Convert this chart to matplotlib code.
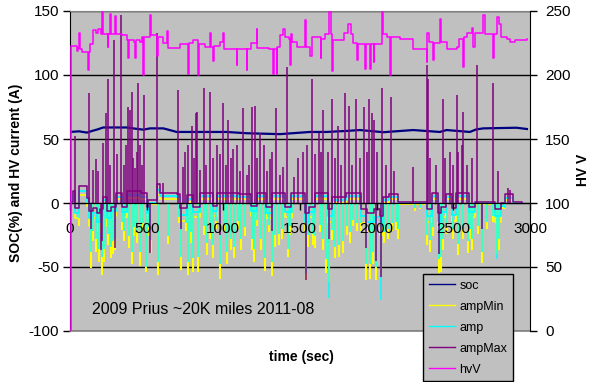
import numpy as np
import matplotlib
matplotlib.use('Agg')
import matplotlib.pyplot as plt
from matplotlib.lines import Line2D

plt.rcParams['font.family'] = ['Liberation Sans', 'DejaVu Sans']
plt.rcParams['axes.unicode_minus'] = False

# ---------------- data ----------------
soc_t = [0, 60, 110, 150, 180, 217, 370, 430, 478, 522, 609, 650, 696, 1022, 1152,
         1369, 1565, 1674, 1804, 1891, 2043, 2238, 2412, 2456, 2608, 2650, 2695, 2912, 2980]
soc_v = [55.5, 56.0, 55.0, 56.5, 57.5, 59.0, 59.0, 58.0, 57.3, 58.3, 58.3, 57.0, 55.5, 55.5, 54.5,
         53.8, 55.5, 55.5, 56.3, 57.0, 55.3, 57.0, 55.5, 57.0, 55.5, 57.5, 58.3, 58.8, 57.8]

# baseline (between spikes) of the three current series
base_t = [0, 20, 35, 60, 110, 125, 150, 175, 195, 215, 240, 265, 300, 340, 370, 460, 500, 510,
          570, 590, 700, 720, 760, 800, 850, 930, 960, 1100, 1180, 1220, 1280, 1320, 1400, 1440,
          1530, 1560, 1600, 1680, 1710, 1800, 1900, 1940, 1980, 2020, 2040, 2080, 2140, 2330,
          2360, 2400, 2420, 2450, 2490, 2520, 2600, 2640, 2770, 2810, 2840, 2890, 2950]
ampMax_base = [1, 9, -4, 13, 4, -6, -4, -8, -5, 5, -6, -3, 8, -3, 9, 8, -3, 2,
               15, 8, 7, -4, 6, -3, 8, -2, 8, 7, -2, 8, -3, 8, -3, 8,
               -8, -3, 8, -5, 5, 8, -5, -8, -5, -10, 5, 7, 1, -5,
               8, -8, -3, 7, -4, 8, -3, 1, -5, 0, 7, 1, 0]
amp_base = [0, 6, -8, 9, 1, -12, -8, -15, -10, 2, -12, -6, 5, -7, 6, 5, -8, 0,
            10, 5.5, 4.5, -9, 3, -7, 5.5, -6, 5.5, 4.5, -6, 5.5, -8, 5.5, -7, 5.5,
            -15, -7, 5.5, -10, 2, 5.5, -10, -15, -11, -18, 2, 4.5, 0, -10,
            5.5, -14, -7, 4.5, -9, 5.5, -7, 0, -10, -2, 4, 0, 0]
ampMin_base = [0, 4, -12, 6, -2, -18, -12, -22, -15, -1, -18, -10, 3, -11, 4, 3, -12, -1,
               6, 3.5, 3, -14, 1, -11, 3.5, -10, 3.5, 3, -10, 3.5, -12, 3.5, -11, 3.5,
               -22, -11, 3.5, -15, 0, 3.5, -16, -22, -17, -25, 0, 3, -1, -15,
               3.5, -20, -11, 3, -14, 3.5, -11, -1, -15, -4, 2.5, 0, 0]

# negative excursions (regen braking) of ampMin and amp
dip_t = [59, 137, 152, 169, 191, 206, 224, 250, 265, 278, 293, 337, 352, 385, 402, 417, 435,
         459, 476, 494, 517, 528, 576, 641, 713, 724, 757, 771, 787, 804, 837, 876, 891, 913,
         935, 950, 978, 1004, 1026, 1048, 1071, 1097, 1115, 1141, 1185, 1200, 1217, 1245, 1271,
         1300, 1319, 1337, 1360, 1380, 1423, 1434, 1448, 1539, 1554, 1582, 1597, 1630, 1647,
         1669, 1690, 1706, 1728, 1756, 1782, 1804, 1826, 1847, 1869, 1895, 1930, 1956, 1978,
         1995, 2026, 2048, 2076, 2098, 2124, 2141, 2250, 2280, 2325, 2345, 2370, 2408, 2419,
         2434, 2456, 2499, 2532, 2565, 2593, 2608, 2625, 2662, 2690, 2717, 2760, 2782, 2800, 2840]
ampMin_dip = [-18, -51, -30, -38, -46, -56, -46, -33, -43, -40, -37, -21, -30, -35, -48, -26, -31,
              -49, -22, -54, -26, -39, -56, -32, -16, -52, -22, -56, -31, -54, -54, -25, -41, -28,
              -43, -20, -59, -23, -48, -37, -43, -20, -37, -26, -37, -46, -18, -37, -53,
              -23, -57, -34, -33, -28, -42, -25, -12, -60, -34, -33, -35, -23, -37,
              -55, -62, -29, -43, -42, -39, -25, -31, -18, -22, -22, -60, -59, -48,
              -60, -56, -31, -28, -22, -21, -28, -6, -5, -33, -38, -26, -55, -54,
              -37, -24, -28, -41, -28, -39, -28, -37, -24, -47, -20, -15, -40, -37, -5]
amp_dip = [-12, -38, -22, -28, -36, -42, -36, -24, -34, -30, -28, -15, -22, -26, -38, -19, -23,
           -38, -16, -50, -19, -29, -46, -26, -11, -42, -16, -46, -23, -43, -42, -18, -31, -20,
           -33, -14, -48, -17, -38, -28, -34, -14, -28, -19, -28, -36, -13, -28, -43,
           -17, -46, -25, -24, -20, -36, -18, -8, -55, -25, -24, -26, -17, -28,
           -44, -74, -21, -34, -33, -30, -18, -23, -13, -16, -16, -48, -48, -38,
           -50, -76, -23, -20, -16, -15, -20, -4, -4, -25, -29, -19, -44, -42,
           -28, -18, -20, -32, -20, -30, -20, -28, -18, -38, -15, -10, -44, -28, -4]

# negative excursions of ampMax
maxdip_t = [137, 200, 206, 293, 522, 724, 978, 1319, 1539, 1690, 1930, 1995, 2026, 2408, 2690]
ampMax_dip = [-20, -37, -30, -35, -39, -20, -25, -22, -60, -28, -35, -45, -58, -40, -20]

# positive spikes of ampMax
spike_t = [33, 126, 152, 167, 185, 217, 235, 245, 262, 287, 304, 330, 354, 362, 380, 391, 402,
           413, 424, 435, 446, 456, 470, 485, 569, 609, 702, 739, 750, 772, 793, 808, 820, 826,
           848, 874, 890, 913, 935, 956, 978, 1000, 1015, 1032, 1050, 1065, 1087, 1110, 1130,
           1152, 1170, 1189, 1206, 1220, 1239, 1265, 1285, 1304, 1320, 1343, 1369, 1390, 1417,
           1460, 1490, 1520, 1545, 1576, 1600, 1626, 1637, 1652, 1680, 1711, 1730, 1750, 1770,
           1793, 1821, 1840, 1865, 1890, 1917, 1935, 1952, 1967, 1982, 2005, 2036, 2060, 2091,
           2110, 2239, 2325, 2336, 2345, 2390, 2430, 2445, 2480, 2500, 2521, 2530, 2558, 2565,
           2590, 2620, 2652, 2760, 2790, 2855, 2870]
ampMax_spike = [52, 86, 26, 34, 25, 47, 70, 97, 30, 127, 38, 147, 30, 45, 75, 73, 87,
                35, 27, 40, 94, 45, 30, 84, 133, 16, 88, 28, 40, 45, 60, 35, 70, 71,
                26, 90, 30, 87, 35, 45, 38, 78, 30, 65, 35, 42, 45, 25, 74,
                22, 30, 75, 76, 35, 55, 45, 25, 34, 40, 74, 22, 28, 106,
                20, 35, 40, 45, 97, 38, 55, 40, 73, 40, 81, 35, 60, 30,
                86, 76, 30, 81, 35, 75, 40, 81, 70, 65, 40, 90, 30, 83,
                25, 28, 108, 97, 35, 30, 81, 35, 40, 30, 84, 40, 45, 71,
                30, 35, 108, 94, 25, 12, 10]

hv_t = [0, 4, 33, 43, 54, 60, 66, 76, 109, 120, 125, 130, 152, 170, 185, 200, 206, 212, 239,
        245, 250, 260, 265, 293, 298, 340, 370, 380, 385, 420, 424, 430, 456, 470, 478, 483,
        510, 522, 530, 565, 570, 575, 609, 630, 640, 696, 720, 772, 777, 800, 837, 842, 880,
        913, 920, 935, 940, 978, 1000, 1005, 1070, 1087, 1092, 1140, 1152, 1157, 1180, 1217,
        1222, 1300, 1326, 1331, 1348, 1353, 1369, 1391, 1400, 1430, 1435, 1440, 1450, 1480,
        1533, 1538, 1560, 1565, 1576, 1630, 1635, 1640, 1660, 1690, 1700, 1706, 1712, 1782,
        1790, 1810, 1830, 1848, 1870, 1875, 1924, 1929, 1955, 1960, 1980, 1985, 2021, 2032,
        2040, 2065, 2087, 2092, 2152, 2238, 2325, 2330, 2340, 2370, 2375, 2412, 2418, 2456,
        2521, 2540, 2565, 2570, 2590, 2620, 2630, 2640, 2695, 2705, 2760, 2765, 2782, 2800,
        2810, 2847, 2870, 2900, 2978]
hv_v = [0, 223, 223, 219, 221, 233, 220, 218, 218, 204, 218, 224, 235, 233, 236, 232, 249, 232, 232,
        222, 232, 248, 232, 246, 232, 231, 227, 213, 227, 226, 213, 227, 226, 230, 200, 230,
        230, 247, 231, 231, 215, 230, 225, 234, 221, 221, 224, 201, 225, 227, 200, 224, 222,
        233, 222, 211, 223, 226, 233, 220, 220, 208, 220, 220, 204, 220, 225, 236,
        221, 220, 201, 220, 201, 222, 231, 236, 230, 228, 208, 232, 226, 222,
        243, 222, 222, 215, 230, 230, 213, 228, 232, 249, 232, 203, 227, 227,
        233, 240, 232, 225, 212, 224, 205, 224, 205, 224, 210, 224, 224, 249,
        232, 230, 200, 230, 228, 220, 210, 233, 226, 212, 225, 244, 226, 220,
        222, 228, 206, 230, 233, 237, 222, 233, 247, 232, 213, 232, 245, 240,
        230, 228, 226, 227, 228]

x_ticks = [0, 500, 1000, 1500, 2000, 2500, 3000]
left_ticks = [-100, -50, 0, 50, 100, 150]
right_ticks = [0, 50, 100, 150, 200, 250]

names = ['soc', 'ampMin', 'amp', 'ampMax', 'hvV']
colors = {'soc': '#000080', 'ampMin': '#FFFF00', 'amp': '#00FFFF',
          'ampMax': '#800080', 'hvV': '#FF00FF'}

# ---------------- figure ----------------
W, H = 599, 382
fig = plt.figure(figsize=(W / 100, H / 100), dpi=100)
fig.patch.set_facecolor('white')
ax = fig.add_axes([70 / W, 1 - 331 / H, 460 / W, 320 / H])
ax.set_facecolor('#C0C0C0')
ax.set_xlim(0, 3000)
ax.set_ylim(-100, 150)
ax.set_xticks(x_ticks)
ax.set_yticks(left_ticks)
ax.yaxis.grid(True, color='black', lw=1)
ax.set_axisbelow(True)
ax.spines['bottom'].set_position(('data', 0))
ax.spines['bottom'].set_zorder(6)
ax.spines['top'].set_color('#808080')
ax.spines['right'].set_visible(False)
ax.axhline(-100, color='#808080', lw=1.2, clip_on=False, zorder=3)
ax.tick_params(axis='y', direction='out', length=5, width=1, labelsize=11, pad=3)
ax.tick_params(axis='x', direction='out', length=5, width=1, labelsize=11, pad=9)
ax.xaxis.set_zorder(10)

# soc
ax.plot(soc_t, soc_v, color=colors['soc'], lw=1.6, zorder=2)
# ampMin
ax.plot(base_t, ampMin_base, color=colors['ampMin'], lw=1.2, drawstyle='steps-post', zorder=3)
ax.vlines(dip_t, 0, ampMin_dip, color=colors['ampMin'], lw=1.5, zorder=3)
# amp
ax.plot(base_t, amp_base, color=colors['amp'], lw=1.3, drawstyle='steps-post', zorder=4)
ax.vlines(dip_t, 0, amp_dip, color=colors['amp'], lw=1.1, zorder=4)
# ampMax
ax.plot(base_t, ampMax_base, color=colors['ampMax'], lw=1.1, drawstyle='steps-post', zorder=5)
ax.vlines(maxdip_t, 0, ampMax_dip, color=colors['ampMax'], lw=1.1, zorder=5)
ax.vlines(spike_t, 0, ampMax_spike, color=colors['ampMax'], lw=1.1, zorder=5)

# hvV on the secondary axis
ax2 = ax.twinx()
ax2.set_ylim(0, 250)
ax2.set_yticks(right_ticks)
for s in ['top', 'bottom', 'left']:
    ax2.spines[s].set_visible(False)
ax2.spines['right'].set_color('black')
ax2.tick_params(axis='y', direction='out', length=5, width=1, labelsize=11, pad=6)
ax2.plot(hv_t, hv_v, color=colors['hvV'], lw=1.1, drawstyle='steps-post')

# labels
fig.text(16 / W, 1 - 173 / H, 'SOC(%) and HV current (A)', rotation=90, fontsize=10,
         fontweight='bold', ha='center', va='center')
fig.text(583 / W, 1 - 170 / H, 'HV V', rotation=90, fontsize=10,
         fontweight='bold', ha='center', va='center')
fig.text(301 / W, 1 - 357 / H, 'time (sec)', fontsize=10, fontweight='bold',
         ha='center', va='center')
fig.text(92 / W, 1 - 310 / H, '2009 Prius ~20K miles 2011-08', fontsize=11.5,
         ha='left', va='center')

# legend
handles = [Line2D([], [], color=colors[n], lw=1.0) for n in names]
leg = ax2.legend(handles, names, loc='upper left', bbox_to_anchor=(423 / W, 1 - 274 / H),
                 bbox_transform=fig.transFigure, fontsize=9, frameon=True, fancybox=False,
                 facecolor='#C0C0C0', edgecolor='black', framealpha=1, handlelength=2.1,
                 handletextpad=0.35, labelspacing=0.72, borderpad=0.45, borderaxespad=0)
leg.get_frame().set_linewidth(1.0)
leg.set_zorder(10)

fig.savefig('out.png', dpi=100)
